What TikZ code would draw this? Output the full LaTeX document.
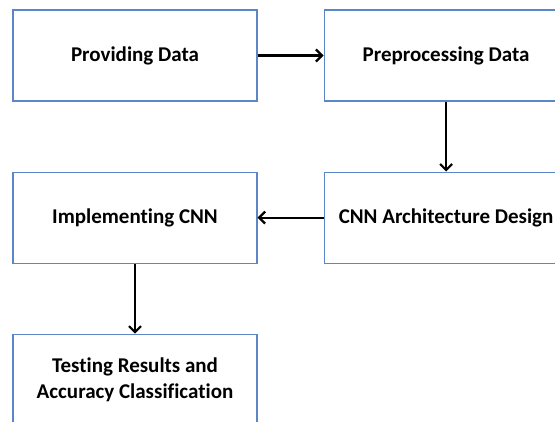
\documentclass[tikz,border=0pt]{standalone}
\usepackage{fontspec}
\setmainfont[Ligatures=NoCommon]{Carlito}
\usetikzlibrary{positioning,arrows.meta}
\definecolor{stageblue}{HTML}{5B87C8}

\tikzset{
  stagebox/.style={draw=stageblue, line width=1.1pt, minimum width=244pt,
    minimum height=91pt, inner sep=0pt, align=center,
    font=\fontsize{21}{26.5}\selectfont\bfseries},
  flow/.style={-{Straight Barb[length=6pt,width=12pt]}, line width=2.2pt}
}

\begin{document}
\begin{tikzpicture}
  \useasboundingbox (0,0) rectangle (555pt,-421pt);
  % stages
  \node[stagebox] (prov) at (135pt,-55.5pt) {Providing Data};
  \node[stagebox, right=66pt of prov] (prep) {Preprocessing Data};
  \node[stagebox, below=70pt of prep] (arch) {CNN Architecture Design};
  \node[stagebox, below=70pt of prov] (impl) {Implementing CNN};
  \node[stagebox, below=70pt of impl] (test) {Testing Results and\\Accuracy Classification};
  % flow
  \draw[flow] (prov) -- (prep);
  \draw[flow] (prep) -- (arch);
  \draw[flow] (arch) -- (impl);
  \draw[flow] (impl) -- (test);
\end{tikzpicture}
\end{document}
